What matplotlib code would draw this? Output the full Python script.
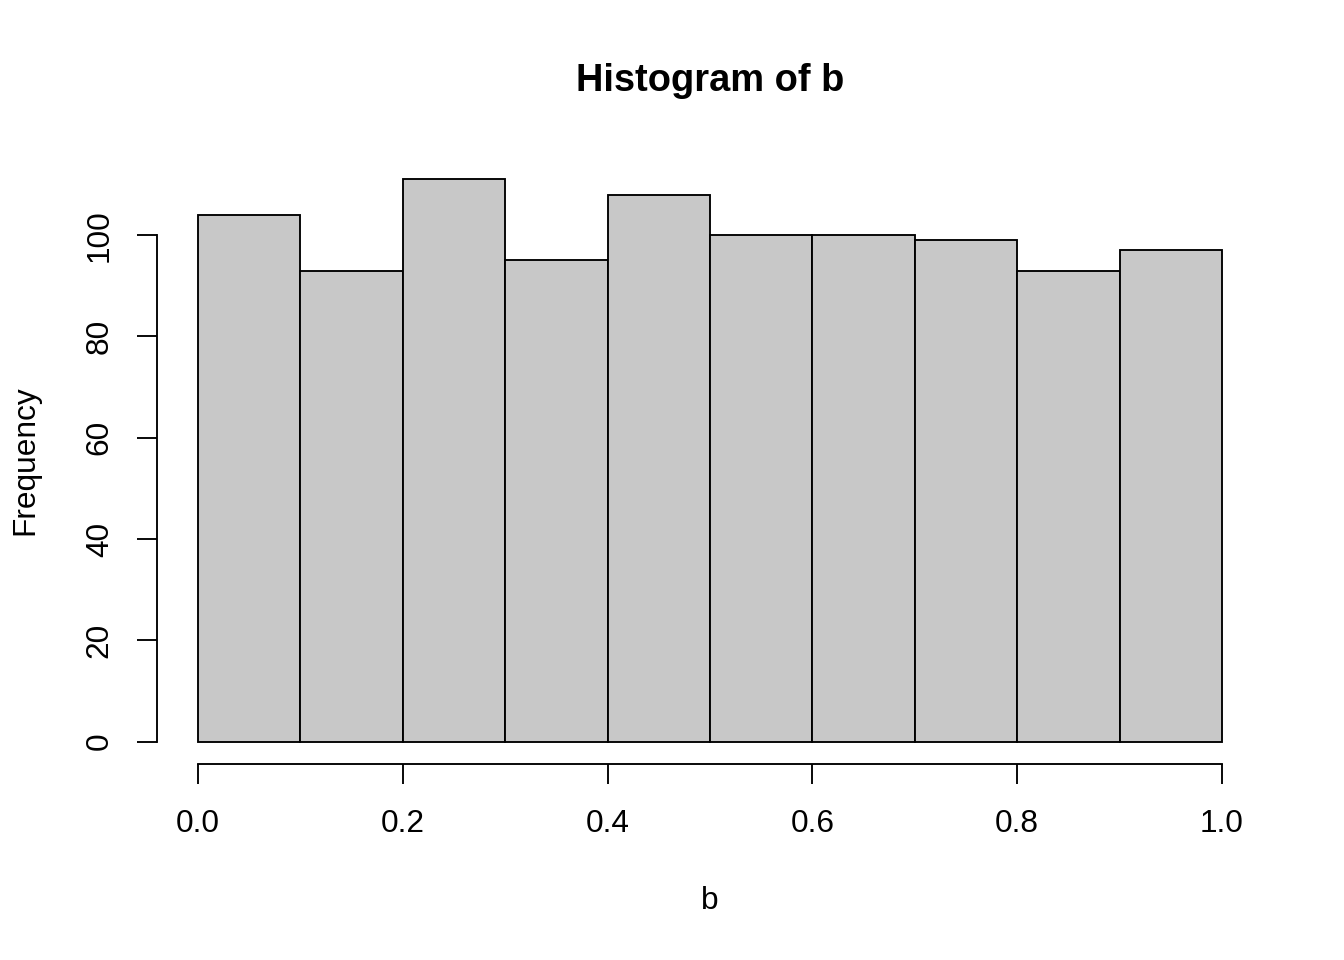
import numpy as np
import matplotlib.pyplot as plt

plt.rcParams['font.family'] = ['Liberation Sans', 'DejaVu Sans']

# histogram counts
bin_edges = [0.0, 0.1, 0.2, 0.3, 0.4, 0.5, 0.6, 0.7, 0.8, 0.9, 1.0]
counts = [104, 93, 111, 95, 108, 100, 100, 99, 93, 97]
x_ticks = [0.0, 0.2, 0.4, 0.6, 0.8, 1.0]
y_ticks = [0, 20, 40, 60, 80, 100]

fs = 22.8
lw = 1.35

fig = plt.figure(figsize=(13.44, 9.6), dpi=100)
ax = fig.add_axes([157/1344, 1 - 764/960, (1263 - 157)/1344, (764 - 157)/960])

edges = np.array(bin_edges)
ax.bar(edges[:-1], counts, width=np.diff(edges), align='edge',
       color='#c8c8c8', edgecolor='black', linewidth=lw)

ax.set_xlim(-0.04, 1.04)
ax.set_ylim(-0.04 * max(counts), 1.04 * max(counts))

for s in ['top', 'right']:
    ax.spines[s].set_visible(False)
ax.spines['left'].set_bounds(0, 100)
ax.spines['bottom'].set_bounds(0, 1)
ax.spines['left'].set_linewidth(lw)
ax.spines['bottom'].set_linewidth(lw)

ax.set_xticks(x_ticks)
ax.set_xticklabels(['%.1f' % v for v in x_ticks])
ax.set_yticks(y_ticks)
ax.set_yticklabels([str(v) for v in y_ticks], rotation=90, va='center')
ax.tick_params(axis='both', length=14.4, width=lw, labelsize=fs)
ax.tick_params(axis='x', pad=18)
ax.tick_params(axis='y', pad=16)

fig.text(710/1344, 1 - 81/960, 'Histogram of b', ha='center', va='center',
         fontsize=fs * 1.2, fontweight='bold')
fig.text(710/1344, 1 - 901/960, 'b', ha='center', va='center', fontsize=fs)
fig.text(25/1344, 1 - 460/960, 'Frequency', ha='center', va='center',
         fontsize=fs, rotation=90)

fig.savefig('out.png', dpi=100)
